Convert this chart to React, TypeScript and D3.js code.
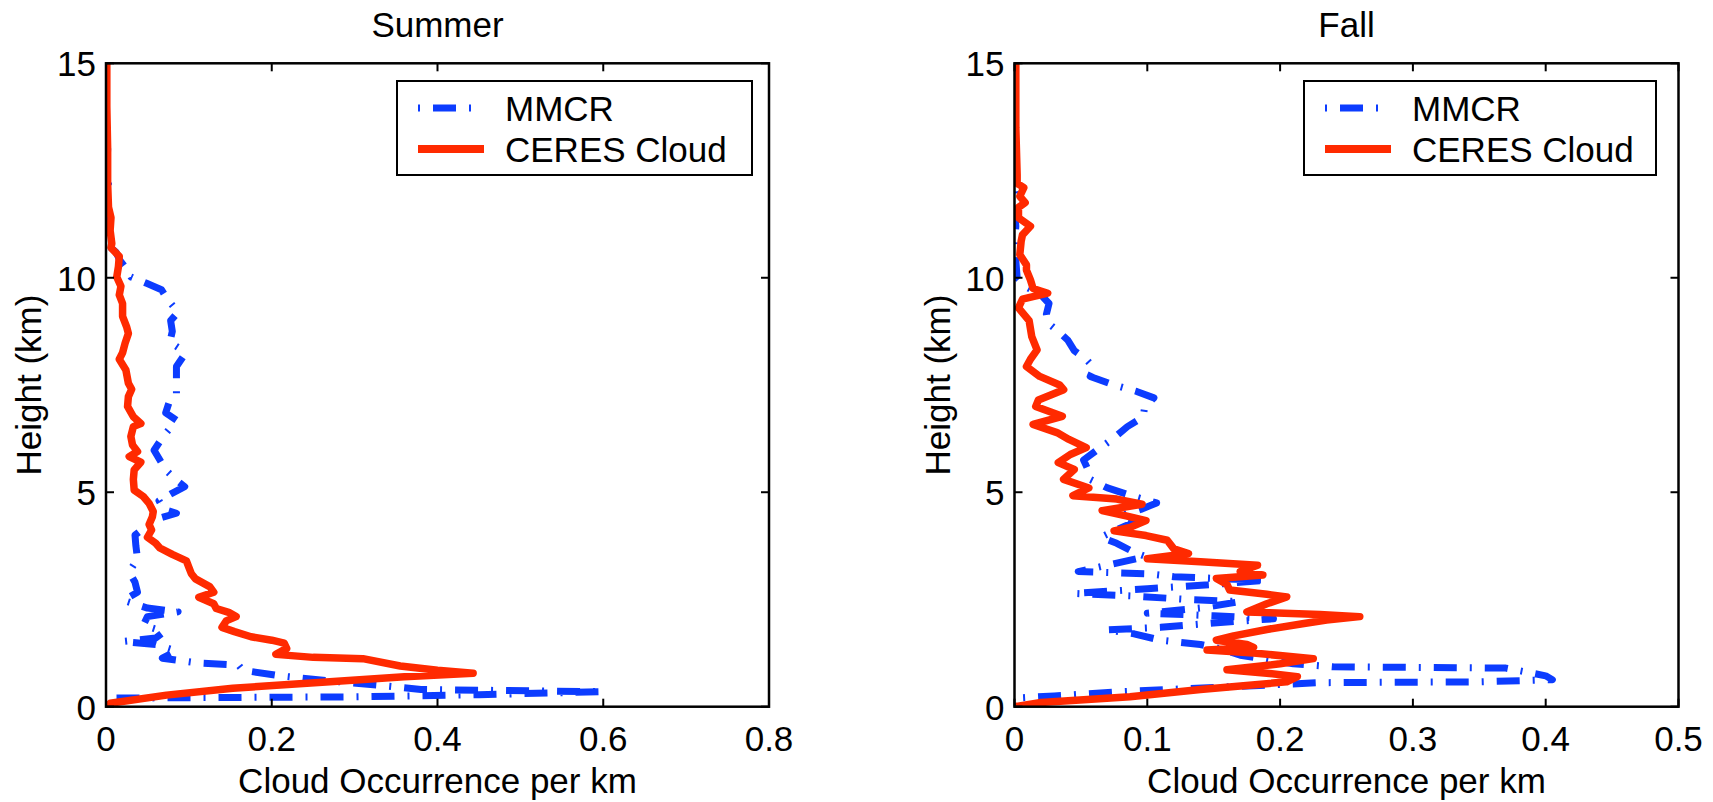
import React from "react";
import * as d3 from "d3";

const FONT = "'Liberation Sans', Arial, Helvetica, sans-serif";
const RED = "#ff2a00";
const BLUE = "#0c3cff";

type Pt = [number, number]; // [height km, cloud occurrence per km]

const yTicks = [0, 5, 10, 15];
const summerXTicks = [0, 0.2, 0.4, 0.6, 0.8];
const fallXTicks = [0, 0.1, 0.2, 0.3, 0.4, 0.5];
const legendLabels = ["MMCR", "CERES Cloud"];
const panelTitles = ["Summer", "Fall"];
const xAxisLabel = "Cloud Occurrence per km";
const yAxisLabel = "Height (km)";

const summerMMCR: Pt[] = [
  [13.4, 0.0], [13.0, 0.002], [12.6, 0.001], [12.2, 0.003], [11.8, 0.0], [11.4, 0.002], [11.0, 0.001],
  [10.75, 0.003], [10.6, 0.012], [10.4, 0.017], [10.2, 0.025], [10.02, 0.03], [9.87, 0.049], [9.72, 0.067],
  [9.5, 0.074], [9.2, 0.087], [9.0, 0.078], [8.75, 0.08], [8.5, 0.077], [8.3, 0.093], [8.16, 0.093],
  [7.93, 0.085], [7.66, 0.085], [7.3, 0.085], [7.15, 0.077], [6.85, 0.072], [6.68, 0.085], [6.53, 0.079],
  [6.3, 0.069], [5.98, 0.058], [5.75, 0.065], [5.52, 0.072], [5.28, 0.085], [5.13, 0.095], [4.97, 0.079],
  [4.8, 0.064], [4.6, 0.07], [4.51, 0.085], [4.38, 0.062], [4.22, 0.05], [4.0, 0.035], [3.76, 0.036],
  [3.45, 0.038], [3.14, 0.028], [2.9, 0.035], [2.67, 0.038], [2.48, 0.021], [2.3, 0.05], [2.21, 0.087],
  [2.1, 0.05], [1.9, 0.045], [1.75, 0.07], [1.6, 0.06], [1.52, 0.02], [1.45, 0.06], [1.3, 0.085],
  [1.13, 0.068], [1.02, 0.11], [0.97, 0.16], [0.85, 0.165], [0.72, 0.21], [0.6, 0.27], [0.5, 0.33],
  [0.4, 0.38], [0.35, 0.6], [0.28, 0.45], [0.23, 0.3], [0.2, 0.0],
];

const summerCeres: Pt[] = [
  [15, 0.001], [14, 0.001], [13, 0.002], [12.2, 0.002], [11.65, 0.003], [11.4, 0.006], [11.1, 0.005],
  [10.8, 0.007], [10.7, 0.006], [10.5, 0.016], [10.26, 0.015], [10.02, 0.013], [9.8, 0.018], [9.6, 0.016],
  [9.4, 0.02], [9.1, 0.02], [8.85, 0.025], [8.7, 0.027], [8.47, 0.023], [8.25, 0.02], [8.1, 0.016],
  [7.85, 0.024], [7.54, 0.027], [7.4, 0.031], [7.23, 0.027], [7.0, 0.026], [6.76, 0.033], [6.6, 0.042],
  [6.53, 0.033], [6.3, 0.03], [6.1, 0.032], [5.95, 0.038], [5.83, 0.028], [5.7, 0.042], [5.52, 0.034],
  [5.3, 0.033], [5.05, 0.034], [4.9, 0.045], [4.74, 0.052], [4.55, 0.057], [4.43, 0.056], [4.25, 0.052],
  [4.12, 0.055], [3.95, 0.05], [3.81, 0.06], [3.7, 0.065], [3.55, 0.08], [3.4, 0.097], [3.25, 0.1],
  [3.1, 0.103], [2.98, 0.108], [2.8, 0.125], [2.67, 0.13], [2.55, 0.112], [2.4, 0.13], [2.29, 0.133],
  [2.2, 0.148], [2.1, 0.157], [2.0, 0.145], [1.85, 0.14], [1.75, 0.155], [1.63, 0.175], [1.55, 0.2],
  [1.48, 0.215], [1.36, 0.218], [1.22, 0.205], [1.15, 0.25], [1.12, 0.31], [0.95, 0.355], [0.85, 0.4],
  [0.78, 0.443], [0.7, 0.36], [0.58, 0.27], [0.43, 0.153], [0.27, 0.073], [0.08, 0.005], [0, 0],
];

const fallMMCR: Pt[] = [
  [13.2, 0.0], [12.8, 0.001], [12.4, 0.0], [12.0, 0.001], [11.6, 0.0], [11.2, 0.001], [10.8, 0.0],
  [10.4, 0.001], [10.0, 0.002], [9.8, 0.008], [9.6, 0.02], [9.4, 0.026], [9.15, 0.024], [8.95, 0.025],
  [8.75, 0.033], [8.55, 0.04], [8.3, 0.045], [8.1, 0.054], [7.9, 0.06], [7.7, 0.057], [7.5, 0.075],
  [7.35, 0.092], [7.2, 0.105], [7.0, 0.098], [6.76, 0.097], [6.53, 0.085], [6.22, 0.073], [5.98, 0.062],
  [5.75, 0.052], [5.55, 0.055], [5.3, 0.057], [5.1, 0.07], [4.9, 0.09], [4.75, 0.107], [4.6, 0.095],
  [4.45, 0.08], [4.3, 0.09], [4.1, 0.075], [3.95, 0.065], [3.81, 0.077], [3.6, 0.09], [3.5, 0.099],
  [3.3, 0.07], [3.15, 0.048], [3.1, 0.1], [3.03, 0.12], [2.98, 0.16], [2.95, 0.19], [2.85, 0.15],
  [2.75, 0.1], [2.64, 0.045], [2.58, 0.09], [2.5, 0.13], [2.45, 0.17], [2.3, 0.14], [2.18, 0.1],
  [2.12, 0.15], [2.05, 0.195], [1.95, 0.15], [1.85, 0.11], [1.79, 0.069], [1.7, 0.09], [1.55, 0.11],
  [1.45, 0.14], [1.35, 0.155], [1.2, 0.17], [1.13, 0.185], [1.0, 0.21], [0.93, 0.24], [0.9, 0.37],
  [0.72, 0.4], [0.63, 0.405], [0.58, 0.35], [0.56, 0.23], [0.45, 0.15], [0.35, 0.08], [0.25, 0.03],
  [0.2, 0.0],
];

const fallCeres: Pt[] = [
  [15, 0.001], [13.5, 0.001], [12.4, 0.002], [12.2, 0.002], [12.1, 0.007], [11.9, 0.004], [11.75, 0.008],
  [11.64, 0.003], [11.4, 0.003], [11.2, 0.012], [11.0, 0.006], [10.85, 0.005], [10.54, 0.004],
  [10.3, 0.009], [10.18, 0.009], [9.95, 0.012], [9.75, 0.014], [9.64, 0.025], [9.5, 0.006], [9.3, 0.003],
  [9.0, 0.011], [8.63, 0.013], [8.32, 0.017], [8.1, 0.012], [7.93, 0.009], [7.7, 0.019], [7.5, 0.034],
  [7.39, 0.037], [7.15, 0.018], [7.0, 0.016], [6.77, 0.036], [6.58, 0.014], [6.39, 0.032], [6.23, 0.041],
  [6.04, 0.054], [5.88, 0.042], [5.69, 0.033], [5.53, 0.045], [5.3, 0.037], [5.1, 0.056], [4.92, 0.044],
  [4.84, 0.077], [4.72, 0.096], [4.57, 0.066], [4.45, 0.084], [4.34, 0.099], [4.18, 0.087], [4.1, 0.075],
  [3.99, 0.099], [3.88, 0.115], [3.68, 0.12], [3.57, 0.131], [3.45, 0.1], [3.38, 0.14], [3.3, 0.183],
  [3.15, 0.17], [3.07, 0.187], [2.99, 0.152], [2.85, 0.16], [2.72, 0.162], [2.62, 0.19], [2.56, 0.205],
  [2.4, 0.19], [2.21, 0.175], [2.15, 0.23], [2.1, 0.26], [2.02, 0.235], [1.94, 0.218], [1.8, 0.19],
  [1.65, 0.165], [1.55, 0.152], [1.45, 0.175], [1.38, 0.18], [1.32, 0.145], [1.25, 0.18], [1.12, 0.225],
  [1.0, 0.2], [0.86, 0.16], [0.78, 0.19], [0.7, 0.213], [0.58, 0.205], [0.4, 0.14], [0.23, 0.087],
  [0.1, 0.02], [0, 0],
];

const DASH = "2 13 23 13";

interface PanelProps {
  id: string;
  title: string;
  mmcr: Pt[];
  ceres: Pt[];
  xTicks: number[];
  left: number;
  right: number;
  legendLeft: number;
  legendRight: number;
}

function Panel({ id, title, mmcr, ceres, xTicks, left, right, legendLeft, legendRight }: PanelProps) {
  const top = 63.3;
  const bottom = 706.7;
  const x = d3.scaleLinear().domain([xTicks[0], xTicks[xTicks.length - 1]]).range([left, right]);
  const y = d3.scaleLinear().domain([0, 15]).range([bottom, top]);
  const line = d3.line<Pt>().x((d) => x(d[1])).y((d) => y(d[0]));
  const tickLen = 8;
  const cx = (left + right) / 2;
  const cy = (top + bottom) / 2;
  const lgTop = 81;
  const lgH = 94;
  return (
    <g>
      <defs>
        <clipPath id={`clip-${id}`}>
          <rect x={left} y={top} width={right - left} height={bottom - top} />
        </clipPath>
      </defs>
      <rect x={left} y={top} width={right - left} height={bottom - top} fill="white" />
      <g clipPath={`url(#clip-${id})`}>
        <path d={line(mmcr) || ""} fill="none" stroke={BLUE} strokeWidth={7} strokeDasharray={DASH}
          strokeLinejoin="round" strokeLinecap="butt" />
        <path d={line(ceres) || ""} fill="none" stroke={RED} strokeWidth={7.5}
          strokeLinejoin="round" strokeLinecap="round" />
      </g>
      {/* box */}
      <rect x={left} y={top} width={right - left} height={bottom - top} fill="none" stroke="black" strokeWidth={2.5} />
      {/* x ticks */}
      {xTicks.map((t, i) => (
        <g key={`xt${i}`}>
          <line x1={x(t)} x2={x(t)} y1={bottom} y2={bottom - tickLen} stroke="black" strokeWidth={2} />
          <line x1={x(t)} x2={x(t)} y1={top} y2={top + tickLen} stroke="black" strokeWidth={2} />
          <text x={x(t)} y={751} textAnchor="middle" fontFamily={FONT} fontSize={35} fill="black">
            {String(t)}
          </text>
        </g>
      ))}
      {yTicks.map((t, i) => (
        <g key={`yt${i}`}>
          <line x1={left} x2={left + tickLen} y1={y(t)} y2={y(t)} stroke="black" strokeWidth={2} />
          <line x1={right} x2={right - tickLen} y1={y(t)} y2={y(t)} stroke="black" strokeWidth={2} />
          <text x={left - 10} y={y(t) + 12.8} textAnchor="end" fontFamily={FONT} fontSize={35} fill="black">
            {String(t)}
          </text>
        </g>
      ))}
      <text x={cx} y={37} textAnchor="middle" fontFamily={FONT} fontSize={35} fill="black">{title}</text>
      <text x={cx} y={793} textAnchor="middle" fontFamily={FONT} fontSize={35} fill="black">{xAxisLabel}</text>
      <text transform={`translate(${left - 65},${cy}) rotate(-90)`} textAnchor="middle" fontFamily={FONT}
        fontSize={35} fill="black">{yAxisLabel}</text>
      {/* legend */}
      <rect x={legendLeft} y={lgTop} width={legendRight - legendLeft} height={lgH} fill="white" stroke="black" strokeWidth={2} />
      <line x1={legendLeft + 21} x2={legendLeft + 87} y1={108} y2={108} stroke={BLUE} strokeWidth={7}
        strokeDasharray={DASH} />
      <line x1={legendLeft + 21} x2={legendLeft + 87} y1={149} y2={149} stroke={RED} strokeWidth={8} />
      <text x={legendLeft + 108} y={121} fontFamily={FONT} fontSize={35} fill="black">{legendLabels[0]}</text>
      <text x={legendLeft + 108} y={162} fontFamily={FONT} fontSize={35} fill="black">{legendLabels[1]}</text>
    </g>
  );
}

export default function App() {
  return (
    <svg width={1713} height={802} viewBox="0 0 1713 802"
      style={{ position: "absolute", left: 0, top: 0, background: "white" }}>
      <rect x={0} y={0} width={1713} height={802} fill="white" />
      <Panel id="summer" title={panelTitles[0]} mmcr={summerMMCR} ceres={summerCeres} xTicks={summerXTicks}
        left={106} right={769} legendLeft={397} legendRight={752} />
      <Panel id="fall" title={panelTitles[1]} mmcr={fallMMCR} ceres={fallCeres} xTicks={fallXTicks}
        left={1014.5} right={1678.5} legendLeft={1304} legendRight={1656} />
    </svg>
  );
}
